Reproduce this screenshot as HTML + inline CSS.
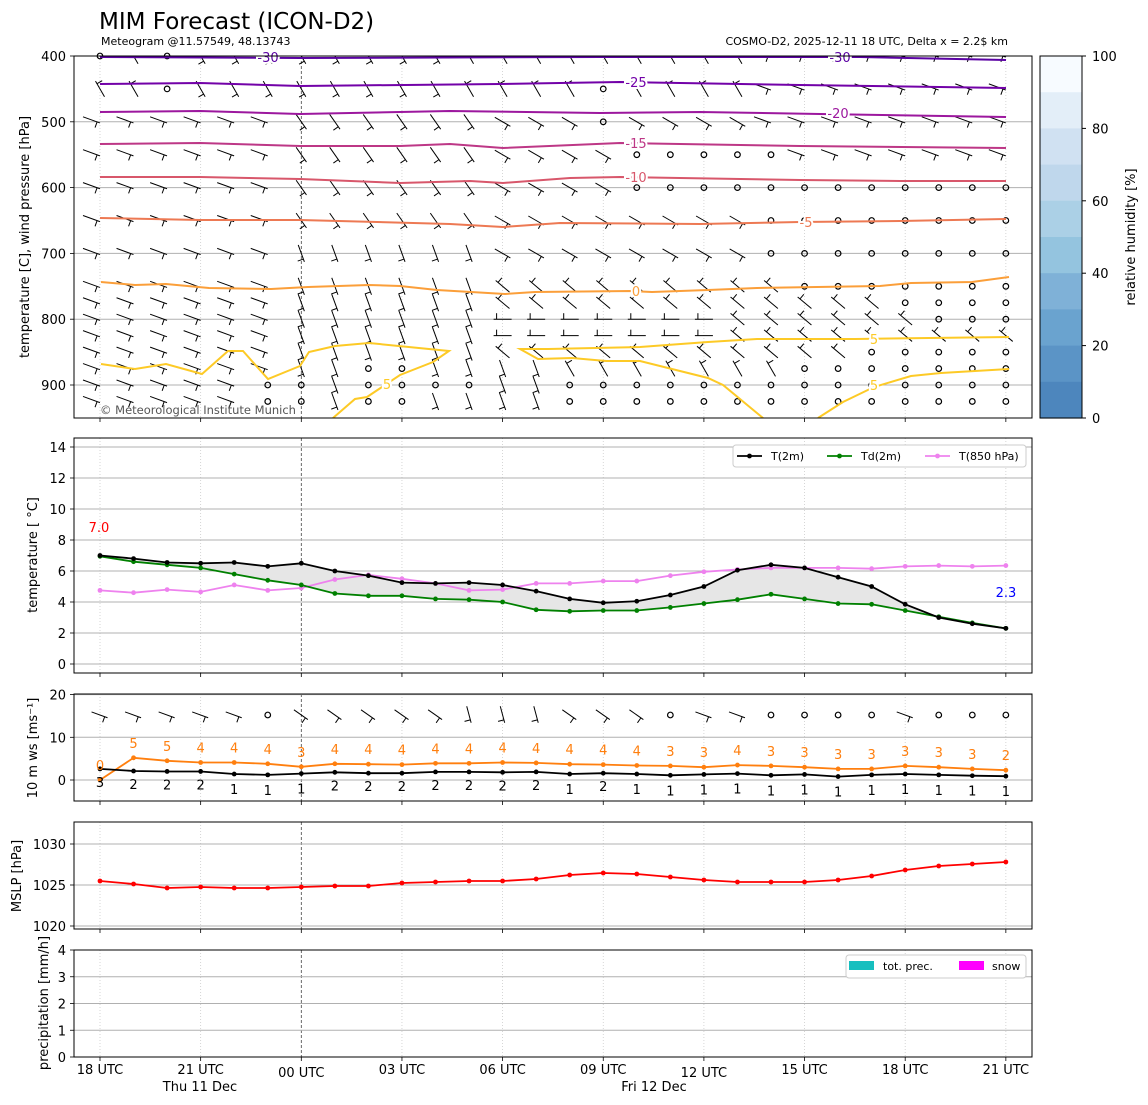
<!DOCTYPE html>
<html><head><meta charset="utf-8"><style>
html,body{margin:0;padding:0;background:#fff}
svg{display:block;font-family:"DejaVu Sans","Liberation Sans",sans-serif}
</style></head><body>
<svg id="s" width="1148" height="1105" viewBox="0 0 1148 1105" xmlns="http://www.w3.org/2000/svg">
<defs>
<clipPath id="c1"><rect x="74" y="56" width="958" height="362"/></clipPath>
<clipPath id="c2"><rect x="74" y="438" width="958" height="235"/></clipPath>
</defs>
<text x="99" y="29" font-size="23">MIM Forecast (ICON-D2)</text>
<text x="101" y="45" font-size="11">Meteogram @11.57549, 48.13743</text>
<text x="1008" y="45" font-size="11" text-anchor="end">COSMO-D2, 2025-12-11 18 UTC, Delta x = 2.2$ km</text>
<g id="g"></g>
</svg>
<script>
var S=document.getElementById('g'),NS='http://www.w3.org/2000/svg';
function el(t,a,txt,par){var e=document.createElementNS(NS,t);for(var k in a)e.setAttribute(k,a[k]);if(txt!==undefined)e.textContent=txt;(par||S).appendChild(e);return e;}
function X(i){return 100+i*33.55;}
function pl(pts,col,w,clip,extra){var d=pts.map(function(p,k){return (k?'L':'M')+p[0].toFixed(1)+' '+p[1].toFixed(1)}).join(' ');var a={d:d,fill:'none',stroke:col,'stroke-width':w||1.5};if(clip)a['clip-path']=clip;for(var k in extra)a[k]=extra[k];return el('path',a);}
var panels=[[56,418],[438,673],[694,801],[822,929],[950,1057]];
var xt=[0,3,6,9,12,15,18,21,24,27];
// grids
panels.forEach(function(p,pi){
  xt.forEach(function(i){
    var x=X(i);
    if(i==6) el('line',{x1:x,y1:p[0],x2:x,y2:p[1],stroke:'#444','stroke-width':0.8,'stroke-dasharray':'3,2'});
    else el('line',{x1:x,y1:p[0],x2:x,y2:p[1],stroke:'#ccc','stroke-width':0.8,'stroke-dasharray':'1,2'});
    el('line',{x1:x,y1:p[1],x2:x,y2:p[1]+4,stroke:'#000','stroke-width':0.8});
  });
});
function hgrid(ys,p,labels){ys.forEach(function(y,k){el('line',{x1:74,y1:y,x2:1032,y2:y,stroke:'#b0b0b0','stroke-width':1});el('line',{x1:70,y1:y,x2:74,y2:y,stroke:'#000','stroke-width':0.8});el('text',{x:66,y:y+5,'font-size':13,'text-anchor':'end'},labels[k]);});}
// panel1
function YP(p){return 56+(p-400)*0.658;}
hgrid([400,500,600,700,800,900].map(YP),0,['400','500','600','700','800','900']);
// wind barbs panel1
var levels=[400,450,500,550,600,650,700,750,775,800,825,850,875,900,925];
var calm={400:[0,2],450:[2,15],500:[15],550:[16,17,18,19,20],600:[16,17,18,19,20,21,22,23,24,25,26,27],650:[20,21,22,23,24,25,26,27],700:[20,21,22,23,24,25,26,27],750:[21,22,23,24,25,26,27],775:[24,25,26,27],800:[25,26,27],825:[],850:[23,24,25,26,27],875:[8,9,21,22,23,24,25,26,27],900:[5,6,8,9,10,11,14,15,16,17,18,19,20,21,22,23,24,25,26,27],925:[5,6,8,9,14,15,16,17,18,19,20,21,22,23,24,25,26,27]};
function barb(x,y,ang,len){len=len||18;var r=ang*Math.PI/180;var x2=x+len*Math.cos(r),y2=y+len*Math.sin(r);
 el('line',{x1:x,y1:y,x2:x2,y2:y2,stroke:'#000','stroke-width':1});
 var bx=x2-3*Math.cos(r),by=y2-3*Math.sin(r);var r2=r+Math.PI/2;
 el('line',{x1:bx,y1:by,x2:bx+6*Math.cos(r2),y2:by+6*Math.sin(r2),stroke:'#000','stroke-width':1});}
function circ(x,y){el('circle',{cx:x,cy:y,r:2.8,fill:'none',stroke:'#000','stroke-width':1.2});}
var g1=el('g',{'clip-path':'url(#c1)'});
levels.forEach(function(p){var y=YP(p);for(var i=0;i<28;i++){var x=X(i);
 if(calm[p].indexOf(i)>=0){circ(x,y);continue;}
 var a;
 if(p<=450){a=(i<3)?-120:(i<11?60:(i<20?-120:20));}
 else if(i<6){a=(p<=600)?200:20;}
 else if(i<12){a=(p>=700)?70:55;}
 else if(p>=750&&p<=850){a=(p==800||p==825)&&i<19?180:-140;}
 else if(p>=875){a=(i<14)?70:-120;}
 else a=(i<20)?30:20;
 var s=el('g',{},undefined,g1);
 var old=S;S=s;
 if(a===200)barb(x-17,y-5,20);else if(a===20)barb(x-17,y-5,20);else barb(x-9*Math.cos(a*Math.PI/180),y-9*Math.sin(a*Math.PI/180),a);
 S=old;}});
// contours
var C=[
 ['#5b02a3',[[100,57],[300,58],[600,57],[860,57],[1006,60]]],
 ['#7201a8',[[100,84],[200,83],[300,86],[500,84],[620,82],[800,85],[1006,88]]],
 ['#9c179e',[[100,112],[200,111],[300,114],[450,111],[600,113],[700,112],[820,114],[1006,117]]],
 ['#bd3786',[[100,144],[200,143],[300,146],[400,146],[450,144],[503,148],[620,143],[800,146],[1006,148]]],
 ['#d8576b',[[100,177],[200,177],[300,179],[400,183],[470,181],[503,183],[570,178],[620,177],[800,180],[900,181],[1006,181]]],
 ['#ed7953',[[100,218],[200,220],[300,220],[450,224],[503,227],[560,223],[700,224],[800,222],[900,221],[1006,219]]],
 ['#fb9f3a',[[101,282],[135,285],[166,284],[209,288],[271,289],[308,287],[369,285],[400,286],[437,290],[505,294],[535,292],[631,291],[652,292],[708,290],[757,288],[880,286],[911,283],[972,282],[1009,277]]],
 ['#fdca26',[[101,364],[135,369],[166,364],[202,374],[228,351],[243,351],[268,379],[300,366],[309,352],[335,346],[369,343],[449,351],[433,362],[400,375],[385,385],[367,397],[355,399],[333,418]]],
 ['#fdca26',[[763,418],[723,385],[708,378],[640,361],[606,361],[572,358],[538,359],[520,349],[548,349],[640,347],[708,342],[757,339],[855,339],[1009,337]]],
 ['#fdca26',[[818,418],[843,402],[874,387],[911,376],[941,373],[1009,369]]]
];
C.forEach(function(c){pl(c[1],c[0],2,'url(#c1)');});
var CL=[['-30',268,57,'#5b02a3'],['-30',840,57,'#5b02a3'],['-25',636,82,'#7201a8'],['-20',838,113,'#9c179e'],['-15',636,143,'#bd3786'],['-10',636,177,'#d8576b'],['-5',806,222,'#ed7953'],['0',636,291,'#fb9f3a'],['5',874,339,'#fdca26'],['5',387,384,'#fdca26'],['5',874,385,'#fdca26']];
CL.forEach(function(l){el('text',{x:l[1],y:l[2]+5,'font-size':13,fill:l[3],'text-anchor':'middle',stroke:'#fff','stroke-width':4,'paint-order':'stroke'},l[0]);});
el('text',{x:100,y:414,'font-size':11.5,fill:'#555'},'© Meteorological Institute Munich');
el('rect',{x:74,y:56,width:958,height:362,fill:'none',stroke:'#000','stroke-width':1});
el('text',{transform:'translate(29,237) rotate(-90)','font-size':13,'text-anchor':'middle'},'temperature [C], wind pressure [hPa]');
// colorbar
var cb=['#f7fbff','#e3eef8','#d0e1f2','#bfd7ec','#abd0e6','#94c4df','#7fb1d7','#6aa3cf','#5b94c6','#4d86bd'];
for(var k=0;k<10;k++){el('rect',{x:1040,y:56+k*36.2,width:42,height:36.8,fill:cb[k]});}
el('rect',{x:1040,y:56,width:42,height:362,fill:'none',stroke:'#000','stroke-width':1});
for(var k=0;k<=5;k++){var y=418-k*72.4;el('line',{x1:1082,y1:y,x2:1086,y2:y,stroke:'#000'});el('text',{x:1092,y:y+5,'font-size':13},String(k*20));}
el('text',{transform:'translate(1135,237) rotate(-90)','font-size':13,'text-anchor':'middle'},'relative humidity [%]');
// panel2
function YT(v){return 664-v*15.5;}
hgrid([0,2,4,6,8,10,12,14].map(YT),0,['0','2','4','6','8','10','12','14']);
var T=[7.0,6.8,6.55,6.5,6.55,6.3,6.5,6.0,5.7,5.25,5.2,5.25,5.1,4.7,4.2,3.95,4.05,4.45,5.0,6.05,6.4,6.2,5.6,5.0,3.85,3.0,2.6,2.3];
var Td=[6.95,6.6,6.4,6.2,5.8,5.4,5.1,4.55,4.4,4.4,4.2,4.15,4.0,3.5,3.4,3.45,3.45,3.65,3.9,4.15,4.5,4.2,3.9,3.85,3.45,3.05,2.65,2.3];
var T8=[4.75,4.6,4.8,4.65,5.1,4.75,4.9,5.45,5.75,5.5,5.2,4.75,4.8,5.2,5.2,5.35,5.35,5.7,5.95,6.1,6.2,6.2,6.2,6.15,6.3,6.35,6.3,6.35];
var fp=T.map(function(v,i){return [X(i),YT(v)];}).concat(Td.map(function(v,i){return [X(i),YT(v)];}).reverse());
el('path',{d:'M'+fp.map(function(p){return p[0]+' '+p[1]}).join(' L')+'Z',fill:'#e6e6e6',stroke:'none'});
function series(arr,f,col,w){pl(arr.map(function(v,i){return [X(i),f(v)]}),col,w||1.8);arr.forEach(function(v,i){el('circle',{cx:X(i),cy:f(v),r:2.4,fill:col});});}
series(T8,YT,'#ee82ee');series(Td,YT,'#008000');series(T,YT,'#000');
el('text',{x:99,y:532,'font-size':13,fill:'#f00','text-anchor':'middle'},'7.0');
el('text',{x:1006,y:597,'font-size':13,fill:'#00f','text-anchor':'middle'},'2.3');
el('rect',{x:733,y:445,width:293,height:22,rx:3,fill:'#fff',stroke:'#ccc'});
[[737,'#000','T(2m)'],[827,'#008000','Td(2m)'],[925,'#ee82ee','T(850 hPa)']].forEach(function(l){el('line',{x1:l[0],y1:456,x2:l[0]+25,y2:456,stroke:l[1],'stroke-width':1.8});el('circle',{cx:l[0]+12.5,cy:456,r:2.4,fill:l[1]});el('text',{x:l[0]+34,y:460,'font-size':11},l[2]);});
el('rect',{x:74,y:438,width:958,height:235,fill:'none',stroke:'#000'});
el('text',{transform:'translate(37,555) rotate(-90)','font-size':13,'text-anchor':'middle'},'temperature [ °C]');
// panel3
function YW(v){return 780-v*4.27;}
hgrid([0,10,20].map(YW),0,['0','10','20']);
var calm3=[5,17,20,21,22,23,25,26,27];
for(var i=0;i<28;i++){var x=X(i);if(calm3.indexOf(i)>=0){circ(x,715);continue;}var a=i<6?20:(i<11?35:(i<14?75:(i<18?35:20)));if(i==24)a=20;barb(x-9*Math.cos(a*Math.PI/180),715-9*Math.sin(a*Math.PI/180),a,17);}
var G=[0,5.2,4.5,4.1,4.1,3.8,3.1,3.8,3.7,3.6,3.9,3.9,4.1,4.0,3.7,3.6,3.4,3.3,3.0,3.5,3.3,3.0,2.6,2.6,3.3,3.0,2.6,2.3];
var GL=['0','5','5','4','4','4','3','4','4','4','4','4','4','4','4','4','4','3','3','4','3','3','3','3','3','3','3','2'];
var W=[2.6,2.1,2.0,2.0,1.4,1.2,1.5,1.8,1.6,1.6,1.9,1.9,1.8,1.9,1.4,1.6,1.4,1.1,1.3,1.5,1.1,1.3,0.8,1.2,1.4,1.2,1.0,0.9];
var WL=['3','2','2','2','1','1','1','2','2','2','2','2','2','2','1','2','1','1','1','1','1','1','1','1','1','1','1','1'];
series(G,YW,'#ff7f0e');series(W,YW,'#000');
G.forEach(function(v,i){el('text',{x:X(i),y:YW(v)-10,'font-size':13,fill:'#ff7f0e','text-anchor':'middle'},GL[i]);});
W.forEach(function(v,i){el('text',{x:X(i),y:YW(v)+18+(WL[i]=='1'?2:0),'font-size':13,fill:'#000','text-anchor':'middle'},WL[i]);});
el('rect',{x:74,y:694,width:958,height:107,fill:'none',stroke:'#000'});
el('text',{transform:'translate(37,748) rotate(-90)','font-size':13,'text-anchor':'middle'},'10 m ws [ms⁻¹]');
// panel4
function YM(v){return 885-(v-1025)*8.2;}
hgrid([1020,1025,1030].map(YM),0,['1020','1025','1030']);
var M=[881,884,888,887,888,888,887,886,886,883,882,881,881,879,875,873,874,877,880,882,882,882,880,876,870,866,864,862];
pl(M.map(function(v,i){return [X(i),v]}),'#f00',1.8);M.forEach(function(v,i){el('circle',{cx:X(i),cy:v,r:2.4,fill:'#f00'});});
el('rect',{x:74,y:822,width:958,height:107,fill:'none',stroke:'#000'});
el('text',{transform:'translate(21,876) rotate(-90)','font-size':13,'text-anchor':'middle'},'MSLP [hPa]');
// panel5
hgrid([0,1,2,3,4].map(function(v){return 1057-v*26.75}),0,['0','1','2','3','4']);
el('rect',{x:846,y:955,width:180,height:23,rx:3,fill:'#fff',stroke:'#ccc'});
el('rect',{x:849,y:961,width:25,height:9,fill:'#17bfbf'});el('text',{x:883,y:970,'font-size':11},'tot. prec.');
el('rect',{x:959,y:961,width:25,height:9,fill:'#ff00ff'});el('text',{x:992,y:970,'font-size':11},'snow');
el('rect',{x:74,y:950,width:958,height:107,fill:'none',stroke:'#000'});
el('text',{transform:'translate(48,1003) rotate(-90)','font-size':13,'text-anchor':'middle'},'precipitation [mm/h]');
// x labels
var XL=['18 UTC','21 UTC','00 UTC','03 UTC','06 UTC','09 UTC','12 UTC','15 UTC','18 UTC','21 UTC'];
XL.forEach(function(t,k){var i=xt[k];el('text',{x:X(i),y:(i==6||i==18)?1077:1074,'font-size':13,'text-anchor':'middle'},t);});
el('text',{x:200,y:1091,'font-size':13,'text-anchor':'middle'},'Thu 11 Dec');
el('text',{x:654,y:1091,'font-size':13,'text-anchor':'middle'},'Fri 12 Dec');
</script>
</body></html>
